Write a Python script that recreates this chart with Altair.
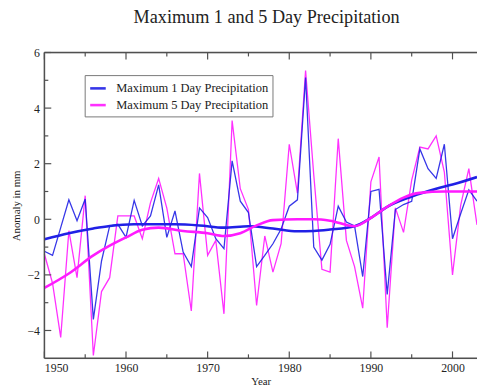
import altair as alt
import pandas as pd

S1 = "Maximum 1 Day Precipitation"
S5 = "Maximum 5 Day Precipitation"

years = list(range(1950, 2004))
max1 = [-1.15, -1.3, -0.3, 0.7, -0.05, 0.73, -3.6, -1.5, -0.24, -0.18,
        -0.65, 0.68, -0.24, 0.12, 1.24, -0.65, 0.3, -1.18, -1.7, 0.41,
        0.06, -0.7, -1.06, 2.1, 0.65, 0.24, -1.7, -1.3, -0.88, -0.35,
        0.47, 0.7, 5.1, -1.0, -1.47, -0.9, 0.47, -0.1, -0.24, -2.06,
        1.0, 1.08, -2.7, 0.35, 0.53, 0.65, 2.53, 1.82, 1.47, 2.7,
        -0.7, 0.2, 1.06, 0.65]
max5 = [-1.25, -2.3, -4.25, -0.41, -2.1, 0.85, -4.9, -2.6, -2.1, 0.12,
        0.12, 0.12, -0.7, 0.6, 1.47, 0.4, -1.24, -1.24, -3.3, 1.65,
        -1.3, -0.76, -3.4, 3.55, 1.1, 0.35, -3.1, -0.6, -1.9, -0.88,
        2.7, 0.94, 5.35, 1.6, -1.8, -1.9, 2.9, -0.76, -1.7, -3.2,
        1.35, 2.24, -3.9, 0.41, -0.47, 1.41, 2.6, 2.53, 3.0, 1.7,
        -2.0, 0.5, 1.82, -0.2]

trend1_years = [1950, 1953, 1956, 1958, 1961, 1966, 1969, 1972, 1975, 1978,
                1981, 1983, 1985, 1988, 1990, 1992, 1995, 1998, 2000, 2003]
trend1 = [-0.72, -0.5, -0.33, -0.24, -0.18, -0.18, -0.22, -0.3, -0.25, -0.33,
          -0.43, -0.42, -0.37, -0.25, 0.05, 0.45, 0.82, 1.1, 1.25, 1.52]
trend5_years = [1950, 1953, 1956, 1958, 1960, 1962, 1964, 1967, 1970, 1972,
                1974, 1976, 1978, 1981, 1983, 1985, 1988, 1990, 1992, 1994,
                1996, 1999, 2003]
trend5 = [-2.47, -1.95, -1.3, -0.95, -0.65, -0.38, -0.3, -0.42, -0.5, -0.6,
          -0.5, -0.22, -0.03, 0.0, 0.0, -0.05, -0.25, 0.05, 0.45, 0.78,
          0.95, 1.0, 1.0]

x_major = [1950, 1960, 1970, 1980, 1990, 2000]
x_minor = [1955, 1965, 1975, 1985, 1995]
y_major = [-4, -2, 0, 2, 4, 6]
y_minor = [-3, -1, 1, 3, 5]

BLUE = "#2020e6"
MAG = "#ff1aff"
FRAME = "#505050"
FONT = "Times New Roman"
W, H = 440, 311

raw = pd.DataFrame({
    "Year": years * 2,
    "value": max1 + max5,
    "series": [S1] * len(years) + [S5] * len(years),
})
trend = pd.DataFrame({
    "Year": trend1_years + trend5_years,
    "value": trend1 + trend5,
    "series": [S1] * len(trend1_years) + [S5] * len(trend5_years),
})

xs = alt.Scale(domain=[1950, 2003], nice=False, zero=False)
ys = alt.Scale(domain=[-5, 6], nice=False, zero=False)

color = alt.Color(
    "series:N",
    scale=alt.Scale(domain=[S1, S5], range=[BLUE, MAG]),
    legend=alt.Legend(
        title=None, orient="none", legendX=41, legendY=23,
        symbolType="stroke", symbolStrokeWidth=2.6, symbolSize=250,
        labelFont=FONT, labelFontSize=12.7, labelColor="#222",
        strokeColor="#777", fillColor="white", padding=4,
        rowPadding=0, labelOffset=9,
    ),
)

x_enc = alt.X("Year:Q", scale=xs, title="Year", axis=alt.Axis(
    values=x_major, format="d", ticks=False, domain=False, grid=False,
    labelFont=FONT, labelFontSize=12, labelPadding=4, labelColor="#222",
    titleFont=FONT, titleFontSize=11, titleFontWeight="normal",
    titlePadding=3, titleColor="#222"))
y_enc = alt.Y("value:Q", scale=ys, title="Anomaly in mm", axis=alt.Axis(
    values=y_major, ticks=False, domain=False, grid=False,
    labelFont=FONT, labelFontSize=12, labelPadding=5, labelColor="#222",
    titleFont=FONT, titleFontSize=11, titleFontWeight="normal",
    titlePadding=6, titleColor="#222"))

lines5 = alt.Chart(raw[raw.series == S5]).mark_line(strokeWidth=1.3, opacity=0.9).encode(
    x=x_enc, y=y_enc, color=color)
lines1 = alt.Chart(raw[raw.series == S1]).mark_line(strokeWidth=1.3, opacity=0.9).encode(
    x=x_enc, y=y_enc, color=color)
trends = alt.Chart(trend).mark_line(strokeWidth=2.6, interpolate="monotone").encode(
    x=alt.X("Year:Q", scale=xs, title="Year"),
    y=alt.Y("value:Q", scale=ys, title="Anomaly in mm"),
    color=color)

def xticks(vals, length, top):
    y0, y1 = (0, length) if top else (H, H - length)
    return alt.Chart(pd.DataFrame({"Year": vals})).mark_rule(
        color=FRAME, strokeWidth=1.2).encode(
        x=alt.X("Year:Q", scale=xs, title="Year"),
        y=alt.value(y0), y2=alt.value(y1))

def yticks(vals, length):
    return alt.Chart(pd.DataFrame({"value": vals})).mark_rule(
        color=FRAME, strokeWidth=1.2).encode(
        y=alt.Y("value:Q", scale=ys, title="Anomaly in mm"),
        x=alt.value(0), x2=alt.value(length))

one = pd.DataFrame({"a": [0]})
frame_top = alt.Chart(one).mark_rule(color=FRAME, strokeWidth=1.5).encode(
    x=alt.value(0), x2=alt.value(W), y=alt.value(0))
frame_bottom = alt.Chart(one).mark_rule(color=FRAME, strokeWidth=1.5).encode(
    x=alt.value(0), x2=alt.value(W), y=alt.value(H))
frame_left = alt.Chart(one).mark_rule(color=FRAME, strokeWidth=1.5).encode(
    x=alt.value(0), y=alt.value(0), y2=alt.value(H))

chart = alt.layer(
    lines5, lines1, trends,
    xticks(x_major, 7, False), xticks(x_minor, 4, False),
    xticks(x_major, 7, True), xticks(x_minor, 4, True),
    yticks(y_major, 7), yticks(y_minor, 4),
    frame_top, frame_bottom, frame_left,
).properties(
    width=W, height=H,
    autosize=alt.AutoSizeParams(type="none"),
    padding={"left": 37, "top": 42, "right": 0, "bottom": 29},
    title=alt.TitleParams(
        "Maximum 1 and 5 Day Precipitation", font=FONT, fontSize=18.5,
        fontWeight="normal", color="#222", anchor="middle", offset=21, dx=6),
).configure_view(stroke=None).configure(background="white", font=FONT)

chart.save("out.html", embed_options={"renderer": "svg", "actions": False})
